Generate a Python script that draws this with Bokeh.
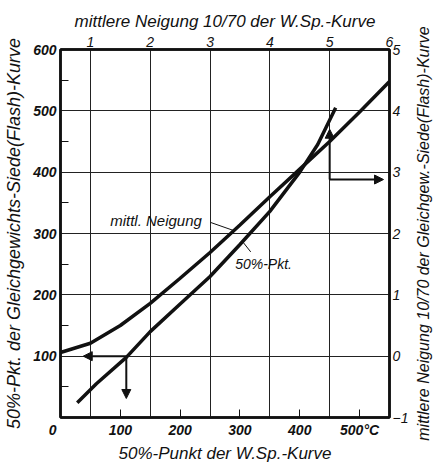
from bokeh.plotting import figure
from bokeh.layouts import row
from bokeh.models import Range1d, LinearAxis, FixedTicker, Arrow, NormalHead, Label
from bokeh.embed import file_html
from bokeh.resources import INLINE

# --- data -------------------------------------------------------------
# 50%-point curve: 50%-point of W.Sp. curve (°C, bottom) -> 50%-point of flash curve (°C, left)
wsp_50 = [28, 60, 110, 150, 200, 250, 300, 350, 400, 430, 460]
flash_50 = [24, 55, 98, 140, 185, 230, 282, 336, 400, 445, 505]

# mean slope curve: mean slope 10/70 of W.Sp. curve (top) -> mean slope of flash curve (right)
wsp_slope = [0.5, 1.0, 1.5, 2.0, 2.5, 3.0, 3.5, 4.0, 4.5, 5.0, 5.5, 6.0]
flash_slope = [0.06, 0.21, 0.5, 0.86, 1.27, 1.69, 2.14, 2.60, 3.05, 3.5, 3.98, 4.48]

bottom_ticks = [0, 100, 200, 300, 400, 500]
left_ticks = [100, 200, 300, 400, 500, 600]
left_minor_ticks = [50, 150, 250, 350, 450, 550]
top_ticks = [1, 2, 3, 4, 5, 6]
right_ticks = [-1, 0, 1, 2, 3, 4, 5]
vgrid_ticks = [50, 150, 250, 350, 450]
hgrid_ticks = [100, 200, 300, 400, 500]

title_bottom = "50%-Punkt der W.Sp.-Kurve"
title_left = "50%-Pkt. der Gleichgewichts-Siede(Flash)-Kurve"
title_top = "mittlere Neigung 10/70 der W.Sp.-Kurve"
title_right = "mittlere Neigung 10/70 der Gleichgew.-Siede(Flash)-Kurve"

FONT = "Liberation Sans"
INK = "#111111"
NB = "\u00a0"

p = figure(width=411, height=466, x_range=Range1d(0, 550), y_range=Range1d(0, 600),
           output_backend="svg", toolbar_location=None,
           min_border_left=60, min_border_right=19, min_border_top=49, min_border_bottom=49)
p.extra_x_ranges = {"top": Range1d(0.5, 6)}
p.extra_y_ranges = {"right": Range1d(-1, 5)}
p.background_fill_color = "white"
p.border_fill_color = "white"
p.outline_line_color = INK
p.outline_line_width = 2.5

p.xgrid.ticker = FixedTicker(ticks=vgrid_ticks)
p.ygrid.ticker = FixedTicker(ticks=hgrid_ticks)
for g in (p.xgrid[0], p.ygrid[0]):
    g.grid_line_color = "#222222"
    g.grid_line_width = 1

def style(ax, title, bold, tsize):
    if title is not None:
        ax.axis_label = title
    ax.axis_label_text_font = FONT
    ax.axis_label_text_font_style = "italic"
    ax.axis_label_text_font_size = tsize
    ax.axis_label_text_color = INK
    ax.major_label_text_font = FONT
    ax.major_label_text_font_style = "bold italic" if bold else "italic"
    ax.major_label_text_font_size = "14px"
    ax.major_label_text_color = INK
    ax.axis_line_color = INK
    ax.axis_line_width = 2.5
    ax.major_tick_line_color = INK
    ax.minor_tick_line_color = INK
    ax.major_tick_in = 0
    ax.major_tick_out = 0
    ax.minor_tick_in = 0
    ax.minor_tick_out = 0
    ax.major_label_standoff = 4
    ax.axis_label_standoff = 3

bx = p.xaxis[0]
style(bx, title_bottom, True, "17px")
bx.ticker = FixedTicker(ticks=bottom_ticks)
bx.major_tick_in = 8
bx.major_label_overrides = {0: "0" + NB * 4, 500: "500°C"}

ly = p.yaxis[0]
style(ly, title_left, True, "18px")
ly.ticker = FixedTicker(ticks=left_ticks, minor_ticks=left_minor_ticks)
ly.minor_tick_in = 8
ly.axis_label_standoff = 6

tx = LinearAxis(x_range_name="top")
style(tx, title_top, False, "17px")
tx.ticker = FixedTicker(ticks=top_ticks)
tx.major_label_standoff = 3
p.add_layout(tx, "above")

ry = LinearAxis(y_range_name="right")
style(ry, None, False, "16px")
ry.ticker = FixedTicker(ticks=right_ticks)
ry.major_label_standoff = 3
p.add_layout(ry, "right")

# curves
p.line(wsp_50, flash_50, line_width=3.5, color=INK)
p.line(wsp_slope, flash_slope, line_width=3.5, color=INK,
       x_range_name="top", y_range_name="right")

# labels with leader lines
p.add_layout(Label(x=83, y=321, text="mittl. Neigung", text_baseline="middle",
                   text_font=FONT, text_font_style="italic", text_font_size="15px",
                   text_color=INK))
p.line([251, 289], [318, 305], line_width=1, color=INK)
p.add_layout(Label(x=292, y=250, text="50%-Pkt.", text_baseline="middle",
                   text_font=FONT, text_font_style="italic", text_font_size="14px",
                   text_color=INK))
p.line([305, 318], [286, 270], line_width=1, color=INK)

# example arrows
def arrow(x0, y0, x1, y1):
    p.add_layout(Arrow(end=NormalHead(size=9, fill_color=INK, line_color=INK),
                       x_start=x0, y_start=y0, x_end=x1, y_end=y1,
                       line_width=2, line_color=INK))

arrow(110, 100, 110, 31)
arrow(110, 100, 38, 100)
arrow(450, 388, 450, 470)
arrow(450, 388, 540, 388)

# narrow strip carrying the right-hand axis title (reads bottom-to-top)
q = figure(width=22, height=466, x_range=Range1d(0, 1), y_range=Range1d(-1, 5),
           output_backend="svg", toolbar_location=None,
           min_border_left=0, min_border_right=0, min_border_top=49, min_border_bottom=49)
q.outline_line_color = None
q.xaxis.visible = False
q.grid.visible = False
qa = q.yaxis[0]
qa.axis_label = title_right
qa.axis_label_text_font = FONT
qa.axis_label_text_font_style = "italic"
qa.axis_label_text_font_size = "16px"
qa.axis_label_text_color = INK
qa.axis_label_standoff = 0
qa.ticker = FixedTicker(ticks=[])
qa.major_label_text_font_size = "0px"
qa.major_tick_in = 0
qa.major_tick_out = 0
qa.minor_tick_in = 0
qa.minor_tick_out = 0
qa.axis_line_color = None

layout = row(p, q, spacing=0)
open("out.html", "w").write(file_html(layout, INLINE))
